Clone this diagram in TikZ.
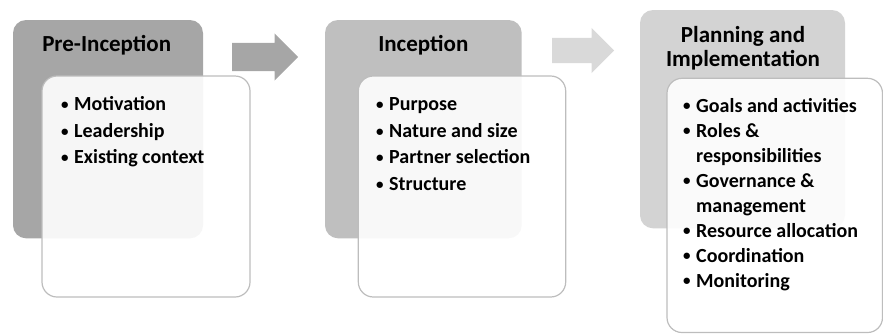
\documentclass[tikz,border=0pt]{standalone}
\usepackage{fontspec}
\setmainfont{Carlito}
\usepackage{xcolor}
\usetikzlibrary{shapes.arrows}

\definecolor{phaseA}{HTML}{A6A6A6}
\definecolor{phaseB}{HTML}{BFBFBF}
\definecolor{phaseC}{HTML}{D3D3D3}
\definecolor{arrowB}{HTML}{D9D9D9}
\definecolor{cardline}{HTML}{BDBDBD}

\newcommand{\itm}{\makebox[13pt][l]{\raisebox{1.2pt}{\fontsize{15}{15}\selectfont\textbullet}}}
\newcommand{\cnt}{\hspace*{13pt}}

\tikzset{
  phase/.style={rectangle, rounded corners=13pt, draw=none, inner sep=0pt},
  card/.style={rectangle, rounded corners=15pt, draw=cardline, line width=1.2pt,
    fill=white, fill opacity=0.9, inner sep=0pt},
  title/.style={anchor=base, inner sep=0pt, font=\fontsize{23}{24}\selectfont\bfseries},
  entry/.style={anchor=base west, inner sep=0pt, font=\fontsize{20}{24}\selectfont\bfseries},
  flow/.style={single arrow, shape border rotate=0, draw=none, anchor=tail, inner xsep=0pt,
    inner ysep=14pt, single arrow head extend=9.5pt, minimum height=66pt}
}

\begin{document}
\begin{tikzpicture}[x=1pt, y=-1pt]
\useasboundingbox (0,0) rectangle (883,333);
\clip (0,0) rectangle (883,333);

\node[phase, fill=phaseA, minimum width=190pt, minimum height=218.3pt] (pre) at (108,129.15) {};
\node[phase, fill=phaseB, minimum width=196.7pt, minimum height=218.3pt] (inc) at (423.35,129.15) {};
\node[phase, fill=phaseC, minimum width=205pt, minimum height=218.3pt] (plan) at (742.5,119.15) {};

\node[flow, fill=phaseA] (go1) at (232,57) {};
\node[flow, fill=arrowB, minimum height=62pt, inner ysep=12.5pt,
  single arrow head extend=10pt] (go2) at (552,50.5) {};

\node[card, minimum width=208pt, minimum height=221pt] (preC) at (146,186.5) {};
\node[card, minimum width=207.4pt, minimum height=221pt] (incC) at (462,186.5) {};
\node[card, minimum width=215.5pt, minimum height=254.2pt] (planC) at (774.75,205.4) {};

\node[title] (preT) at (106.7,51.7) {Pre-Inception};
\node[title] (incT) at (423.3,51.7) {Inception};
\node[title] (planT) at (743,42.7) {Planning and};
\node[title] (planU) at (743,66.7) {Implementation};

\foreach \txt [count=\i from 0] in {Motivation, Leadership, Existing context}
  \node[entry] (preI\i) at (61,110.5+26.7*\i) {\itm\txt};
\foreach \txt [count=\i from 0] in {Purpose, Nature and size, Partner selection, Structure}
  \node[entry] (incI\i) at (376,110.5+26.7*\i) {\itm\txt};
\foreach \txt [count=\i from 0] in {{\itm Goals and activities}, {\itm Roles \&},
    {\cnt responsibilities}, {\itm Governance \&}, {\cnt management},
    {\itm Resource allocation}, {\itm Coordination}, {\itm Monitoring}}
  \node[entry] (planI\i) at (683,112+25*\i) {\txt};
\end{tikzpicture}
\end{document}
